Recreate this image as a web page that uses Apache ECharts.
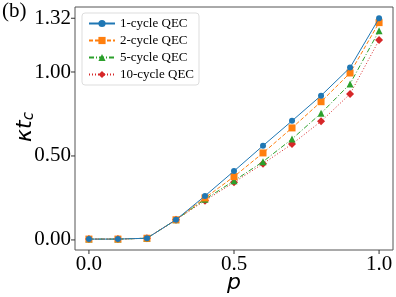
<!DOCTYPE html>
<html><head><meta charset="utf-8">
<script src="https://cdn.jsdelivr.net/npm/echarts@6/dist/echarts.min.js"></script>
<style>html,body{margin:0;padding:0;background:#fff}#c{width:396px;height:297px}</style>
</head><body><div id="c"></div>
<script>
var pValues = [0.0, 0.1, 0.2, 0.3, 0.4, 0.5, 0.6, 0.7, 0.8, 0.9, 1.0];
var seriesNames = ['1-cycle QEC', '2-cycle QEC', '5-cycle QEC', '10-cycle QEC'];
var cycle1 = [0.005, 0.005, 0.01, 0.12, 0.262, 0.41, 0.561, 0.709, 0.859, 1.026, 1.32];
var cycle2 = [0.005, 0.005, 0.01, 0.12, 0.25, 0.377, 0.518, 0.667, 0.823, 0.994, 1.294];
var cycle5 = [0.005, 0.005, 0.01, 0.12, 0.242, 0.352, 0.466, 0.601, 0.754, 0.929, 1.246];
var cycle10 = [0.005, 0.005, 0.01, 0.12, 0.234, 0.343, 0.454, 0.571, 0.706, 0.869, 1.19];
var xTicks = [0.0, 0.5, 1.0];
var yTicks = [0.0, 0.5, 1.0, 1.32];

var colors = ['#1f77b4', '#ff7f0e', '#2ca02c', '#d62728'];
var symbols = ['circle', 'rect', 'triangle', 'diamond'];
var lineTypes = ['solid', [4, 2], [5, 2, 1, 2], [1, 2]];
var sizes = [6, 7, 7, 8];
var allData = [cycle1, cycle2, cycle5, cycle10];

var chart = echarts.init(document.getElementById('c'), null, {renderer: 'canvas'});
var serif = 'Liberation Serif, Times New Roman, serif';
var series = allData.map(function (d, i) {
  return {
    name: seriesNames[i], type: 'line',
    data: d.map(function (v, j) { return [pValues[j], v]; }),
    symbol: symbols[i], symbolSize: sizes[i], showSymbol: true,
    lineStyle: {color: colors[i], width: 1, type: lineTypes[i]},
    itemStyle: {color: colors[i]},
    z: 10 - i, animation: false
  };
});
chart.setOption({
  animation: false,
  grid: {left: 75, right: 3, top: 7, bottom: 47, show: true, borderColor: '#555', borderWidth: 1},
  legend: {
    data: seriesNames, orient: 'vertical', left: 82, top: 13,
    itemWidth: 26, itemHeight: 9, itemGap: 4,
    padding: [4, 5, 4, 6],
    borderColor: '#ddd', borderWidth: 1, borderRadius: 3, backgroundColor: '#fff',
    textStyle: {fontFamily: serif, fontSize: 13, color: '#000', lineHeight: 13},
  },
  xAxis: {
    type: 'value', min: -0.048, max: 1.048,
    axisLine: {show: false}, splitLine: {show: false},
    axisTick: {show: false},
    axisLabel: {customValues: xTicks, fontFamily: serif, fontSize: 21, color: '#000', margin: 4,
      formatter: function (v) { return v.toFixed(1); }}
  },
  yAxis: {
    type: 'value', min: -0.06, max: 1.387,
    axisLine: {show: false}, splitLine: {show: false},
    axisTick: {show: false},
    axisLabel: {customValues: yTicks, fontFamily: serif, fontSize: 21, color: '#000', margin: 4,
      formatter: function (v) { return v.toFixed(2); }}
  },
  series: series
});

var graphics = [
  {type: 'text', left: 2, top: 1, style: {text: '(b)', font: '21px ' + serif, fill: '#000'}},
  {type: 'text', x: 25, y: 127, rotation: Math.PI / 2,
    style: {text: '{a|κt}{s|c}', fill: '#000', align: 'center', verticalAlign: 'middle',
      rich: {a: {font: 'italic 22px DejaVu Sans, sans-serif'}, s: {font: 'italic 15px DejaVu Sans, sans-serif', verticalAlign: 'bottom', padding: [8, 0, 0, 0]}}}},
  {type: 'text', x: 234, y: 283, style: {text: 'p', font: 'italic 22px DejaVu Sans, sans-serif', fill: '#000', align: 'center', verticalAlign: 'middle'}}
];
yTicks.forEach(function (v) {
  var pt = chart.convertToPixel({gridIndex: 0}, [-0.048, v]);
  graphics.push({type: 'line', shape: {x1: pt[0] - 4, y1: pt[1], x2: pt[0], y2: pt[1]}, style: {stroke: '#333', lineWidth: 1}});
});
xTicks.forEach(function (v) {
  var pt = chart.convertToPixel({gridIndex: 0}, [v, -0.06]);
  graphics.push({type: 'line', shape: {x1: pt[0], y1: pt[1], x2: pt[0], y2: pt[1] + 4}, style: {stroke: '#333', lineWidth: 1}});
});
chart.setOption({graphic: graphics});
</script></body></html>
